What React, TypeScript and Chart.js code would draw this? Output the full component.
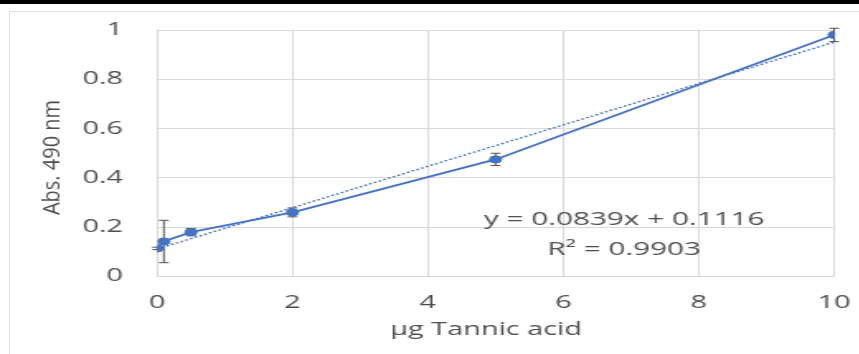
import React, { useEffect, useRef } from "react";
import { Chart, registerables } from "chart.js";

Chart.register(...registerables);

// ---- data ----
const concentrations = [0, 0.1, 0.5, 2, 5, 10]; // µg tannic acid
const absorbance = [0.114, 0.142, 0.18, 0.26, 0.475, 0.98];
const errors = [0.005, 0.086, 0.015, 0.018, 0.025, 0.027];
const trendSlope = 0.0839;
const trendIntercept = 0.1116;
const trendR2 = 0.9903;
const xTickValues = [0, 2, 4, 6, 8, 10];
const yTickValues = [0, 0.2, 0.4, 0.6, 0.8, 1];
const xTitle = "μg Tannic acid";
const yTitle = "Abs. 490 nm";

const STRETCH = 1.65;
const W = 521;
const H = 354;
const BLUE = "#4472C4";
const GREY = "#4f4f4f";
const GRID = "#d9d9d9";

const errorBarPlugin = {
  id: "errorBars",
  beforeDatasetsDraw(chart: any) {
    const ctx = chart.ctx;
    const xs = chart.scales.x;
    const ys = chart.scales.y;
    ctx.save();
    ctx.strokeStyle = "#505050";
    ctx.lineWidth = 1;
    concentrations.forEach((cx, i) => {
      const e = errors[i];
      if (!e) return;
      const px = xs.getPixelForValue(cx);
      const top = ys.getPixelForValue(absorbance[i] + e);
      const bot = ys.getPixelForValue(absorbance[i] - e);
      ctx.beginPath();
      ctx.moveTo(px, top);
      ctx.lineTo(px, bot);
      ctx.moveTo(px - 3, top);
      ctx.lineTo(px + 3, top);
      ctx.moveTo(px - 3, bot);
      ctx.lineTo(px + 3, bot);
      ctx.stroke();
    });
    ctx.restore();
  },
};

const textPlugin = {
  id: "texts",
  afterDraw(chart: any) {
    const ctx = chart.ctx;
    const xs = chart.scales.x;
    const ys = chart.scales.y;
    ctx.save();
    ctx.fillStyle = GREY;
    ctx.font = "18px 'Open Sans'";
    ctx.textAlign = "center";
    ctx.textBaseline = "middle";
    const ex = xs.getPixelForValue(6.9);
    ctx.fillText(
      `y = ${trendSlope}x + ${trendIntercept}`,
      ex,
      ys.getPixelForValue(0.229)
    );
    ctx.fillText(`R² = ${trendR2}`, ex, ys.getPixelForValue(0.107));
    ctx.restore();

    // x axis title
    ctx.save();
    ctx.fillStyle = GREY;
    ctx.font = "17.5px 'Open Sans'";
    ctx.textAlign = "center";
    ctx.textBaseline = "middle";
    ctx.fillText(xTitle, xs.getPixelForValue(4.86), 330);
    ctx.restore();

    // y axis title (condensed look)
    ctx.save();
    ctx.fillStyle = GREY;
    ctx.translate(32.5, 157.5);
    ctx.rotate(-Math.PI / 2);
    ctx.scale(1, 0.7);
    ctx.font = "20px 'Open Sans'";
    ctx.textAlign = "center";
    ctx.textBaseline = "middle";
    ctx.fillText(yTitle, 0, 0);
    ctx.restore();
  },
};

export default function App() {
  const canvasRef = useRef<HTMLCanvasElement | null>(null);

  useEffect(() => {
    const canvas = canvasRef.current;
    if (!canvas) return;
    const chart = new Chart(canvas, {
      type: "scatter",
      data: {
        datasets: [
          {
            label: "Abs",
            data: concentrations.map((x, i) => ({ x, y: absorbance[i] })),
            showLine: true,
            borderColor: BLUE,
            backgroundColor: BLUE,
            borderWidth: 1.8,
            pointRadius: 3.6,
            pointBorderWidth: 1,
            pointBorderColor: BLUE,
            pointBackgroundColor: BLUE,
          },
          {
            label: "Trend",
            data: [0, 10].map((x) => ({ x, y: trendIntercept + trendSlope * x })),
            showLine: true,
            borderColor: BLUE,
            borderWidth: 1.4,
            borderDash: [1.6, 1.6],
            pointRadius: 0,
          },
        ],
      },
      options: {
        animation: false,
        responsive: false,
        maintainAspectRatio: false,
        devicePixelRatio: 1,
        layout: { padding: { top: 30, right: 15.5, left: 0, bottom: 0 } },
        plugins: {
          legend: { display: false },
          tooltip: { enabled: false },
        },
        scales: {
          x: {
            type: "linear",
            min: 0,
            max: 10,
            afterBuildTicks: (s: any) => {
              s.ticks = xTickValues.map((v) => ({ value: v }));
            },
            afterFit: (s: any) => {
              s.height = 77.5;
              s.paddingLeft = 0;
              s.paddingRight = 0;
            },
            ticks: {
              color: GREY,
              font: { family: "'Open Sans'", size: 17.5 },
              padding: 16.5,
            },
            grid: { color: GRID, drawTicks: false, lineWidth: 1 },
            border: { color: GRID, width: 1 },
          },
          y: {
            type: "linear",
            min: 0,
            max: 1,
            afterBuildTicks: (s: any) => {
              s.ticks = yTickValues.map((v) => ({ value: v }));
            },
            afterFit: (s: any) => {
              s.width = 95.2;
              s.paddingTop = 0;
              s.paddingBottom = 0;
            },
            ticks: {
              color: GREY,
              font: { family: "'Open Sans'", size: 17.5 },
              padding: 20.7,
              callback: (v: any) => String(Math.round(Number(v) * 10) / 10),
            },
            grid: { color: GRID, drawTicks: false, lineWidth: 1 },
            border: { color: GRID, width: 1 },
          },
        },
      },
      plugins: [errorBarPlugin, textPlugin],
    } as any);
    return () => chart.destroy();
  }, []);

  return (
    <div
      style={{
        position: "fixed",
        left: 0,
        top: 0,
        width: 859,
        height: 354,
        background: "#fff",
        overflow: "hidden",
      }}
    >
      <div
        style={{
          position: "absolute",
          left: 9,
          top: 11,
          width: 900,
          height: 400,
          border: "1px solid #e0e0e0",
        }}
      />
      <div
        style={{
          position: "absolute",
          left: 0,
          top: 0,
          width: W,
          height: H,
          transform: `scaleX(${STRETCH})`,
          transformOrigin: "0 0",
        }}
      >
        <canvas
          ref={canvasRef}
          width={W}
          height={H}
          style={{ width: W, height: H, display: "block" }}
        />
      </div>
      <div
        style={{
          position: "absolute",
          left: 0,
          top: 0,
          width: 859,
          height: 4,
          background: "#000",
        }}
      />
    </div>
  );
}
